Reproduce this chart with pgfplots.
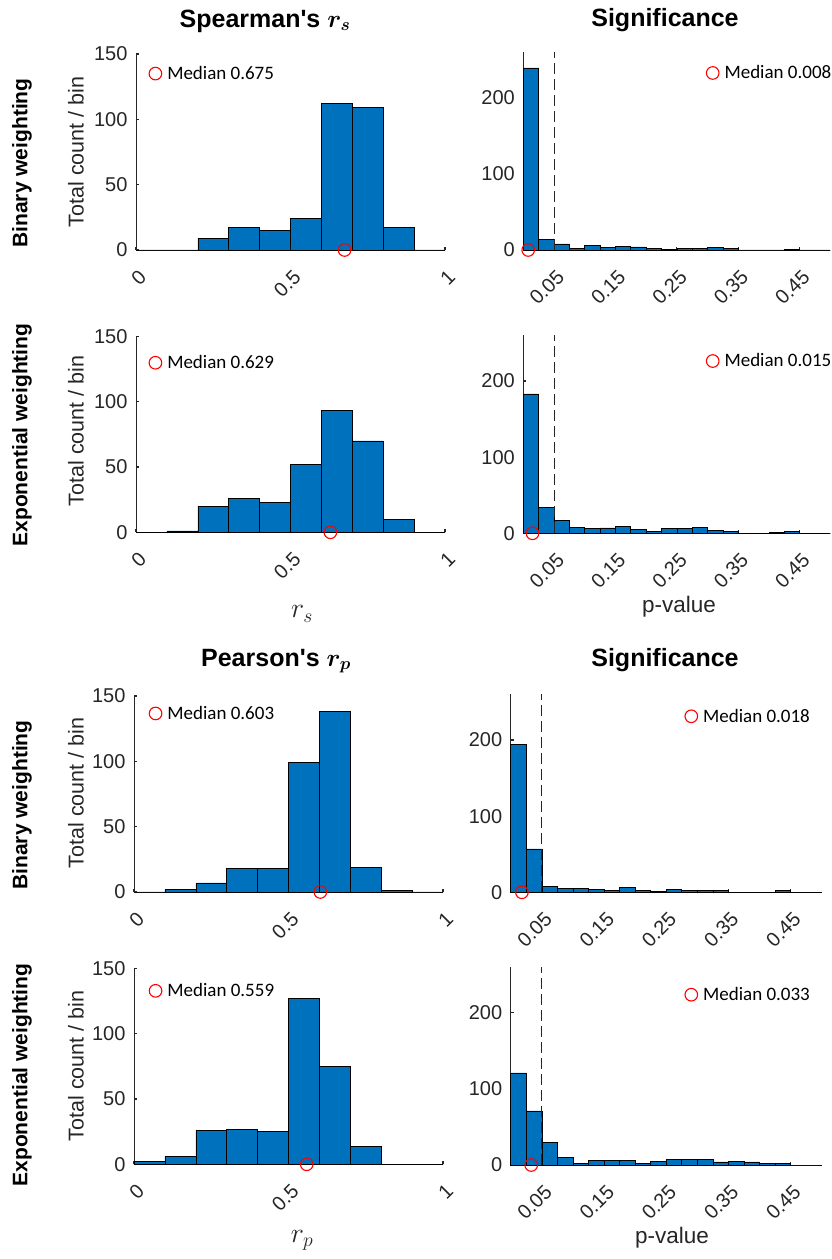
\RequirePackage{fix-cm}
\documentclass[border=0pt]{standalone}
\usepackage{fontspec}
\usepackage{pgfplots}
\pgfplotsset{compat=1.18}
\newfontfamily\arialf{Liberation Sans}
\newfontfamily\calf{Carlito}
\definecolor{mblue}{RGB}{0,114,189}
\definecolor{axgray}{RGB}{38,38,38}
\newcommand{\ticksf}{\arialf\fontsize{20}{22}\selectfont}
\newcommand{\legf}{\calf\fontsize{19}{21}\selectfont}
\pgfplotsset{
  hbase/.style={scale only axis, axis lines*=left, ymin=0, clip=false,
    tick align=inside, major tick length=3pt,
    axis line style={color=axgray, line width=0.8pt},
    tick style={color=axgray, line width=1.2pt},
    ticklabel style={font=\ticksf, color=axgray},
    xticklabel style={xshift=9pt, yshift=-21pt, rotate=45, anchor=east},
    yticklabel style={xshift=-5pt},
    legend style={draw=none, fill=none, font=\legf, anchor=west, inner sep=0pt, column sep=3pt, legend cell align=left},
    legend image code/.code={\draw[red, line width=1.1pt] (0pt,0pt) circle (6.3pt);}},
  lpanel/.style={hbase, width=309pt, height=196pt, xmin=0, xmax=1, ymax=150,
    xtick={0,0.5,1}, xticklabels={0,0.5,1}, ytick={0,50,100,150}, yticklabels={0,50,100,150}},
  rpanel/.style={hbase, width=307pt, height=198pt, xmin=0, xmax=0.5, ymax=260,
    xtick={0.05,0.15,0.25,0.35,0.45}, xticklabels={0.05,0.15,0.25,0.35,0.45},
    ytick={0,100,200}, yticklabels={0,100,200}},
  hist/.style={ybar interval, fill=mblue, draw=black, line width=0.6pt, forget plot},
  med/.style={only marks, mark=o, mark size=6.3pt, red, line width=1.1pt, mark options={solid}},
  sig/.style={dash pattern=on 11pt off 5pt, color=axgray, line width=0.9pt, forget plot},
}
\begin{document}
\begin{tikzpicture}
\useasboundingbox (0,0) rectangle (831pt,1259pt);
% ---------- Row 1: Spearman binary ----------
\begin{axis}[lpanel, at={(136pt,1009pt)}, anchor=south west, legend style={at={(0.040,0.90)}}]
\addplot[hist] table {
x y
0.0 0
0.1 0
0.2 9
0.3 17
0.4 15
0.5 24
0.6 112
0.7 109
0.8 17
0.9 0
1.0 0
};
\addplot[med] coordinates {(0.675,0)};
\addlegendentry{Median 0.675}
\end{axis}
\begin{axis}[rpanel, at={(523.3pt,1009pt)}, anchor=south west, legend style={at={(0.594,0.894)}}]
\addplot[hist] table {
x y
0.000 239
0.025 14
0.050 8
0.075 2
0.100 6
0.125 3
0.150 5
0.175 4
0.200 2
0.225 1
0.250 2
0.275 2
0.300 3
0.325 2
0.350 0
0.375 0
0.400 0
0.425 1
0.450 0
0.475 0
0.500 0
};
\addplot[sig] coordinates {(0.05,0) (0.05,260)};
\addplot[med] coordinates {(0.008,0)};
\addlegendentry{Median 0.008}
\end{axis}
% ---------- Row 2: Spearman exponential ----------
\begin{axis}[lpanel, at={(136pt,726.7pt)}, anchor=south west, legend style={at={(0.040,0.865)}}]
\addplot[hist] table {
x y
0.0 0
0.1 1
0.2 20
0.3 26
0.4 23
0.5 52
0.6 93
0.7 70
0.8 10
0.9 0
1.0 0
};
\addplot[med] coordinates {(0.629,0)};
\addlegendentry{Median 0.629}
\end{axis}
\begin{axis}[rpanel, at={(523.3pt,725.7pt)}, anchor=south west, legend style={at={(0.594,0.870)}}]
\addplot[hist] table {
x y
0.000 183
0.025 34
0.050 17
0.075 8
0.100 6
0.125 7
0.150 9
0.175 5
0.200 2
0.225 6
0.250 6
0.275 8
0.300 4
0.325 3
0.350 0
0.375 0
0.400 1
0.425 3
0.450 0
0.475 0
0.500 0
};
\addplot[sig] coordinates {(0.05,0) (0.05,260)};
\addplot[med] coordinates {(0.015,0)};
\addlegendentry{Median 0.015}
\end{axis}
% ---------- Row 3: Pearson binary ----------
\begin{axis}[lpanel, at={(134pt,367pt)}, anchor=south west, legend style={at={(0.047,0.911)}}]
\addplot[hist] table {
x y
0.0 0
0.1 2
0.2 7
0.3 18
0.4 18
0.5 99
0.6 138
0.7 19
0.8 1
0.9 0
1.0 0
};
\addplot[med] coordinates {(0.603,0)};
\addlegendentry{Median 0.603}
\end{axis}
\begin{axis}[rpanel, width=311pt, at={(510.7pt,366.7pt)}, anchor=south west, legend style={at={(0.558,0.889)}}]
\addplot[hist] table {
x y
0.000 194
0.025 57
0.050 8
0.075 5
0.100 5
0.125 4
0.150 3
0.175 6
0.200 3
0.225 1
0.250 4
0.275 3
0.300 2
0.325 2
0.350 0
0.375 0
0.400 0
0.425 2
0.450 0
0.475 0
0.500 0
};
\addplot[sig] coordinates {(0.05,0) (0.05,260)};
\addplot[med] coordinates {(0.018,0)};
\addlegendentry{Median 0.018}
\end{axis}
% ---------- Row 4: Pearson exponential ----------
\begin{axis}[lpanel, at={(134pt,94.7pt)}, anchor=south west, legend style={at={(0.047,0.885)}}]
\addplot[hist] table {
x y
0.0 2
0.1 6
0.2 26
0.3 27
0.4 25
0.5 127
0.6 75
0.7 14
0.8 0
0.9 0
1.0 0
};
\addplot[med] coordinates {(0.559,0)};
\addlegendentry{Median 0.559}
\end{axis}
\begin{axis}[rpanel, width=311pt, at={(510.7pt,94pt)}, anchor=south west, legend style={at={(0.558,0.860)}}]
\addplot[hist] table {
x y
0.000 121
0.025 71
0.050 30
0.075 10
0.100 2
0.125 6
0.150 6
0.175 6
0.200 2
0.225 5
0.250 7
0.275 7
0.300 7
0.325 4
0.350 5
0.375 4
0.400 2
0.425 2
0.450 0
0.475 0
0.500 0
};
\addplot[sig] coordinates {(0.05,0) (0.05,260)};
\addplot[med] coordinates {(0.033,0)};
\addlegendentry{Median 0.033}
\end{axis}
% ---------- Titles ----------
\node[font=\arialf\bfseries\fontsize{25}{28}\selectfont] at (265pt,1238pt) {Spearman's {\boldmath$r_s$}};
\node[font=\arialf\bfseries\fontsize{25}{28}\selectfont] at (665pt,1239pt) {Significance};
\node[font=\arialf\bfseries\fontsize{25}{28}\selectfont] at (276pt,598pt) {Pearson's {\boldmath$r_p$}};
\node[font=\arialf\bfseries\fontsize{25}{28}\selectfont] at (665pt,599pt) {Significance};
% ---------- Row labels ----------
\node[rotate=90, font=\arialf\bfseries\fontsize{21}{24}\selectfont] at (22pt,1096pt) {Binary weighting};
\node[rotate=90, font=\arialf\bfseries\fontsize{21}{24}\selectfont] at (22pt,824pt) {Exponential weighting};
\node[rotate=90, font=\arialf\bfseries\fontsize{21}{24}\selectfont] at (22pt,454pt) {Binary weighting};
\node[rotate=90, font=\arialf\bfseries\fontsize{21}{24}\selectfont] at (22pt,184pt) {Exponential weighting};
% ---------- y labels ----------
\node[rotate=90, font=\arialf\fontsize{21.5}{24}\selectfont, color=axgray] at (76pt,1107pt) {Total count / bin};
\node[rotate=90, font=\arialf\fontsize{21.5}{24}\selectfont, color=axgray] at (76pt,828pt) {Total count / bin};
\node[rotate=90, font=\arialf\fontsize{21.5}{24}\selectfont, color=axgray] at (76pt,466pt) {Total count / bin};
\node[rotate=90, font=\arialf\fontsize{21.5}{24}\selectfont, color=axgray] at (76pt,193pt) {Total count / bin};
% ---------- x labels ----------
\node[font=\fontsize{28}{30}\selectfont, color=axgray] at (302pt,645pt) {$r_s$};
\node[font=\arialf\fontsize{22.5}{25}\selectfont, color=axgray] at (679pt,652pt) {p-value};
\node[font=\fontsize{28}{30}\selectfont, color=axgray] at (302pt,19pt) {$r_p$};
\node[font=\arialf\fontsize{22.5}{25}\selectfont, color=axgray] at (672pt,21pt) {p-value};
\end{tikzpicture}
\end{document}
